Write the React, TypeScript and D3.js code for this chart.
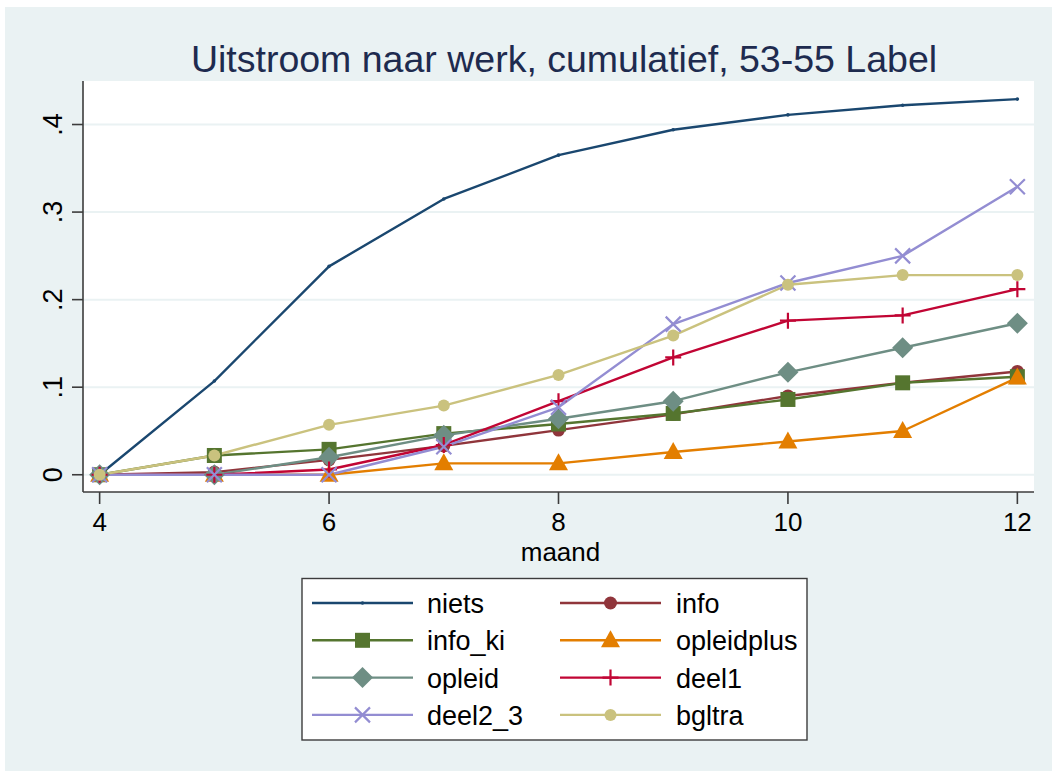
import React from "react";
import * as d3 from "d3";

const months = [4, 5, 6, 7, 8, 9, 10, 11, 12];
const niets = [0, 0.107, 0.238, 0.315, 0.365, 0.394, 0.411, 0.422, 0.429];
const info = [0, 0.003, 0.017, 0.033, 0.051, 0.069, 0.09, 0.105, 0.118];
const infoKi = [0, 0.022, 0.029, 0.047, 0.058, 0.07, 0.086, 0.105, 0.112];
const opleidplus = [0, 0, 0, 0.013, 0.013, 0.026, 0.038, 0.05, 0.111];
const opleid = [0, 0, 0.02, 0.045, 0.064, 0.084, 0.117, 0.145, 0.173];
const deel1 = [0, 0, 0.006, 0.034, 0.084, 0.134, 0.176, 0.182, 0.212];
const deel2_3 = [0, 0, 0, 0.032, 0.077, 0.172, 0.219, 0.25, 0.329];
const bgltra = [0, 0.022, 0.057, 0.079, 0.114, 0.159, 0.217, 0.228, 0.228];

const xTicks = [4, 6, 8, 10, 12];
const yTicks = [0, 0.1, 0.2, 0.3, 0.4];
const yTickLabels = ["0", ".1", ".2", ".3", ".4"];

const title = "Uitstroom naar werk, cumulatief, 53-55 Label";
const xTitle = "maand";

type Series = { name: string; values: number[]; color: string; marker: string };

const series: Series[] = [
  { name: "niets", values: niets, color: "#1a476f", marker: "point" },
  { name: "info", values: info, color: "#90353b", marker: "circle" },
  { name: "info_ki", values: infoKi, color: "#55752f", marker: "square" },
  { name: "opleidplus", values: opleidplus, color: "#e37e00", marker: "triangle" },
  { name: "opleid", values: opleid, color: "#6e8e84", marker: "diamond" },
  { name: "deel1", values: deel1, color: "#c10534", marker: "plus" },
  { name: "deel2_3", values: deel2_3, color: "#938dd2", marker: "x" },
  { name: "bgltra", values: bgltra, color: "#cac27e", marker: "smallcircle" },
];

const FONT = "Arial, 'Liberation Sans', Helvetica, sans-serif";

function Marker({ type, x, y, color }: { type: string; x: number; y: number; color: string }) {
  switch (type) {
    case "point":
      return <circle cx={x} cy={y} r={1.8} fill={color} />;
    case "circle":
      return <circle cx={x} cy={y} r={6.5} fill={color} />;
    case "smallcircle":
      return <circle cx={x} cy={y} r={6} fill={color} />;
    case "square":
      return <rect x={x - 7.5} y={y - 7.5} width={15} height={15} fill={color} />;
    case "triangle":
      return <path d={`M${x},${y - 10} L${x + 9.5},${y + 7} L${x - 9.5},${y + 7} Z`} fill={color} />;
    case "diamond":
      return <path d={`M${x},${y - 10.5} L${x + 10.5},${y} L${x},${y + 10.5} L${x - 10.5},${y} Z`} fill={color} />;
    case "plus":
      return (
        <path d={`M${x - 8},${y} L${x + 8},${y} M${x},${y - 8} L${x},${y + 8}`} stroke={color} strokeWidth={2.2} fill="none" />
      );
    case "x":
      return (
        <path d={`M${x - 7.5},${y - 7.5} L${x + 7.5},${y + 7.5} M${x - 7.5},${y + 7.5} L${x + 7.5},${y - 7.5}`} stroke={color} strokeWidth={2.2} fill="none" />
      );
    default:
      return null;
  }
}

export default function App() {
  const W = 1052;
  const H = 771;
  const plotL = 83;
  const plotR = 1034;
  const plotT = 81;
  const plotB = 492;

  const x = d3.scaleLinear().domain([3.855, 12.145]).range([plotL, plotR]);
  const y = d3.scaleLinear().domain([-0.0197, 0.4497]).range([plotB, plotT]);

  const line = d3
    .line<number>()
    .x((_, i) => x(months[i]))
    .y((v) => y(v));

  const legendRows = [0, 1, 2, 3];
  const legendRowY = (r: number) => 603 + r * 37.3;
  const colLineX = [312, 560];
  const lineLen = 101;
  const textX = [427, 676];

  return (
    <svg width={W} height={H} style={{ position: "absolute", left: 0, top: 0 }} fontFamily={FONT}>
      <rect x={0} y={0} width={W} height={H} fill="#ffffff" />
      <rect x={5} y={7} width={W - 5} height={H - 7} fill="#eaf2f3" />
      <text x={564} y={72} textAnchor="middle" fontSize={37.5} fill="#1e2b4f">
        {title}
      </text>
      <rect x={plotL} y={plotT} width={plotR - plotL} height={plotB - plotT} fill="#ffffff" />
      {yTicks.map((t) => (
        <line key={"g" + t} x1={plotL} x2={plotR} y1={y(t)} y2={y(t)} stroke="#eaf2f3" strokeWidth={2} />
      ))}
      {series.map((s) => (
        <path key={s.name} d={line(s.values) || ""} fill="none" stroke={s.color} strokeWidth={2.4} strokeLinejoin="round" />
      ))}
      {series.map((s) => (
        <g key={"m" + s.name}>
          {s.values.map((v, i) => (
            <Marker key={i} type={s.marker} x={x(months[i])} y={y(v)} color={s.color} />
          ))}
        </g>
      ))}
      {/* axes */}
      <line x1={plotL} x2={plotL} y1={plotT} y2={plotB} stroke="#3c3c3c" strokeWidth={1.6} />
      <line x1={plotL} x2={plotR} y1={plotB} y2={plotB} stroke="#3c3c3c" strokeWidth={1.6} />
      {yTicks.map((t, i) => (
        <g key={"yt" + t}>
          <line x1={plotL - 11} x2={plotL} y1={y(t)} y2={y(t)} stroke="#3c3c3c" strokeWidth={1.6} />
          <text
            transform={`translate(${62},${y(t)}) rotate(-90)`}
            textAnchor="middle"
            fontSize={27}
            fill="#000"
          >
            {yTickLabels[i]}
          </text>
        </g>
      ))}
      {xTicks.map((t) => (
        <g key={"xt" + t}>
          <line x1={x(t)} x2={x(t)} y1={plotB} y2={plotB + 12} stroke="#3c3c3c" strokeWidth={1.6} />
          <text x={x(t)} y={531} textAnchor="middle" fontSize={26} fill="#000">
            {t}
          </text>
        </g>
      ))}
      <text x={(plotL + plotR) / 2 + 2} y={561} textAnchor="middle" fontSize={26} fill="#000">
        {xTitle}
      </text>
      {/* legend */}
      <rect x={302} y={578.5} width={505} height={161.5} fill="#ffffff" stroke="#3c3c3c" strokeWidth={1.4} />
      {series.map((s, i) => {
        const col = i % 2;
        const row = legendRows[Math.floor(i / 2)];
        const ly = legendRowY(row);
        const lx = colLineX[col];
        return (
          <g key={"l" + s.name}>
            <line x1={lx} x2={lx + lineLen} y1={ly} y2={ly} stroke={s.color} strokeWidth={2.4} />
            <Marker type={s.marker} x={lx + lineLen / 2} y={ly} color={s.color} />
            <text x={textX[col]} y={ly + 10} fontSize={27} fill="#000">
              {s.name}
            </text>
          </g>
        );
      })}
    </svg>
  );
}
